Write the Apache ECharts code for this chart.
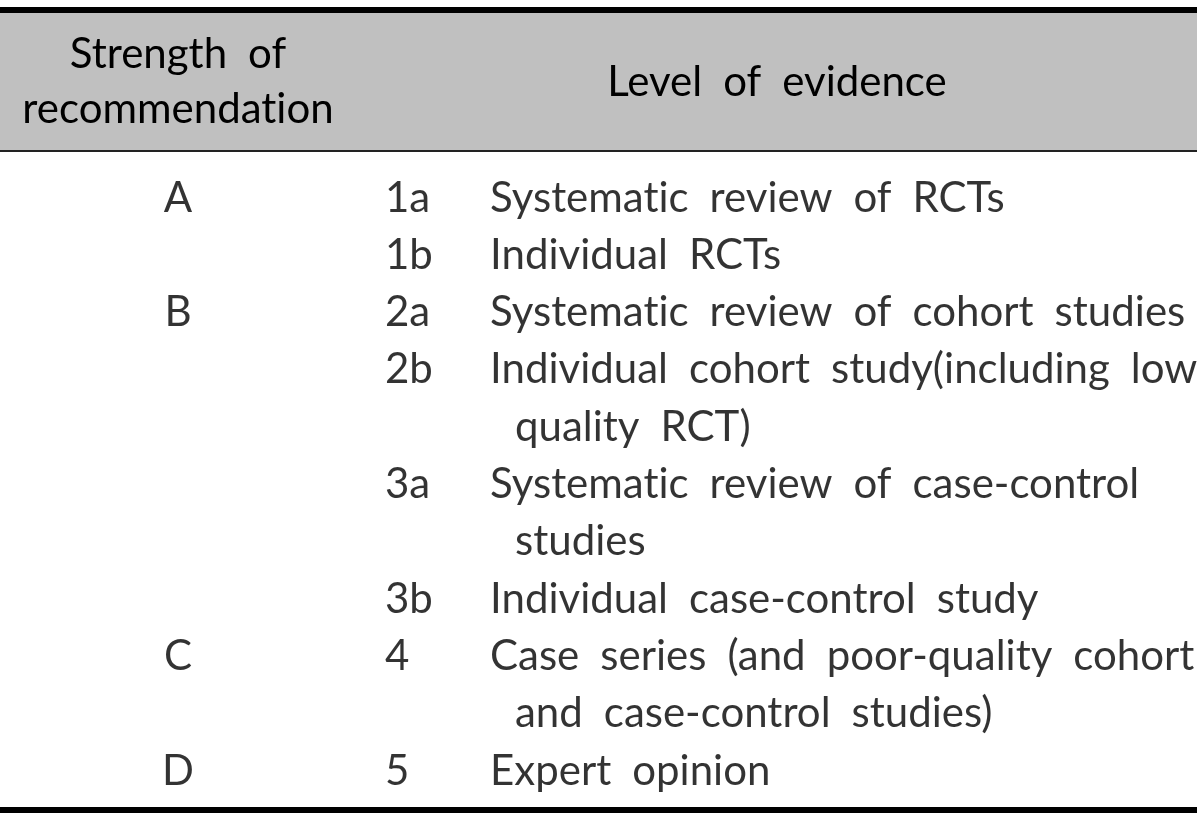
<!DOCTYPE html>
<html>
<head>
<meta charset="utf-8">
<script src="https://cdn.jsdelivr.net/npm/echarts@6/dist/echarts.min.js"></script>
<style>
html,body{margin:0;padding:0;background:#fff;}
#chart{width:1200px;height:819px;}
</style>
</head>
<body>
<div id="chart"></div>
<script>
// ---- data ----
const headerStrength = ['Strength of', 'recommendation'];
const headerLevel = 'Level of evidence';
const levelCodes = ['1a', '1b', '2a', '2b', '3a', '3b', '4', '5'];
const levelStrength = ['A', 'A', 'B', 'B', 'B', 'B', 'C', 'D'];
const levelText = [
  ['Systematic review of RCTs'],
  ['Individual RCTs'],
  ['Systematic review of cohort studies'],
  ['Individual cohort study(including low', 'quality RCT)'],
  ['Systematic review of case-control', 'studies'],
  ['Individual case-control study'],
  ['Case series (and poor-quality cohort', 'and case-control studies)'],
  ['Expert opinion']
];

// ---- layout ----
const FONT = 'Lato';
const FS = 42;
const SP = '\u2002';
// wide word spacing, and break the "ti" ligature
const spaced = s => s.split(' ').join(SP).replace(/ti/g, 't\u200Ci');
const COL_STRENGTH = 178, COL_CODE = 385, COL_DESC = 490, COL_CONT = 515;

// build rows from data
const strengthPts = [], codePts = [], descPts = [], contPts = [];
let row = 0;
levelCodes.forEach((code, i) => {
  if (i === 0 || levelStrength[i] !== levelStrength[i - 1]) {
    strengthPts.push({ value: [COL_STRENGTH, row], name: levelStrength[i] });
  }
  codePts.push({ value: [COL_CODE, row], name: code });
  levelText[i].forEach((line, j) => {
    if (j === 0) descPts.push({ value: [COL_DESC, row], name: spaced(line) });
    else contPts.push({ value: [COL_CONT, row], name: spaced(line) });
    row++;
  });
});
const nRows = row;

const textStyle = { fontFamily: FONT, fontSize: FS, color: '#000' };
function textSeries(data, align) {
  return {
    type: 'scatter', data, symbolSize: 0, silent: true,
    label: {
      show: true, position: 'inside', formatter: p => p.name,
      align, verticalAlign: 'middle', ...textStyle
    }
  };
}

const chart = echarts.init(document.getElementById('chart'), null, { renderer: 'canvas' });
const rowH = 57.3, firstCenter = 198;
const gridTop = firstCenter - rowH / 2;
const gridBottom = 819 - (gridTop + rowH * nRows);
const hdrFont = FS + 'px ' + FONT;
chart.setOption({
  animation: false,
  backgroundColor: '#fff',
  grid: { left: 0, right: 0, top: gridTop, bottom: gridBottom },
  xAxis: { type: 'value', min: 0, max: 1200, show: false },
  yAxis: { type: 'value', min: -0.5, max: nRows - 0.5, inverse: true, show: false },
  graphic: [
    { type: 'rect', shape: { x: 0, y: 13, width: 1197, height: 138 }, style: { fill: '#c0c0c0' }, z: -10 },
    { type: 'rect', shape: { x: 0, y: 7, width: 1197, height: 6 }, style: { fill: '#000' } },
    { type: 'rect', shape: { x: 0, y: 150, width: 1197, height: 2 }, style: { fill: '#222' } },
    { type: 'rect', shape: { x: 0, y: 807, width: 1197, height: 6 }, style: { fill: '#000' } },
    { type: 'text', style: { text: spaced(headerStrength[0]), x: 178, y: 54, align: 'center', verticalAlign: 'middle', font: hdrFont, fill: '#000' } },
    { type: 'text', style: { text: spaced(headerStrength[1]), x: 178, y: 109, align: 'center', verticalAlign: 'middle', font: hdrFont, fill: '#000' } },
    { type: 'text', style: { text: spaced(headerLevel), x: 777, y: 82, align: 'center', verticalAlign: 'middle', font: hdrFont, fill: '#000' } }
  ],
  series: [
    textSeries(strengthPts, 'center'),
    textSeries(codePts, 'left'),
    textSeries(descPts, 'left'),
    textSeries(contPts, 'left')
  ]
});
</script>
</body>
</html>
